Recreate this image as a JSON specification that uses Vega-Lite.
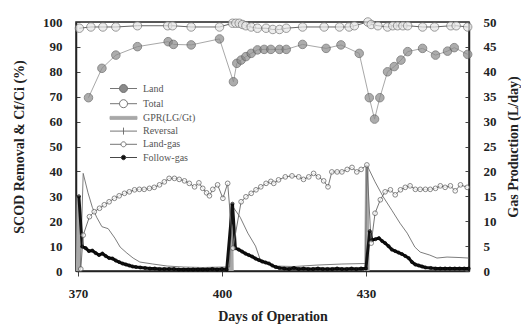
{
  "$schema": "https://vega.github.io/schema/vega-lite/v6.json",
  "width": 393,
  "height": 249,
  "autosize": {"type": "none"},
  "padding": {"left": 76, "top": 22, "right": 52, "bottom": 54},
  "background": "#ffffff",
  "config": {
    "font": "Liberation Serif",
    "view": {"stroke": "#222222", "strokeWidth": 1.5},
    "axis": {
      "grid": false,
      "domainColor": "#222222",
      "domainWidth": 1.5,
      "tickColor": "#444444",
      "labelFont": "Liberation Serif",
      "labelFontWeight": "bold",
      "labelFontSize": 13,
      "labelColor": "#222222",
      "titleFont": "Liberation Serif",
      "titleFontWeight": "bold",
      "titleFontSize": 14,
      "titleColor": "#222222"
    },
    "legend": {
      "orient": "none",
      "legendX": 42,
      "legendY": 61,
      "padding": 0,
      "rowPadding": 2.2,
      "labelFont": "Liberation Serif",
      "labelFontSize": 10,
      "labelColor": "#555555",
      "labelOffset": 14,
      "symbolSize": 100,
      "symbolOpacity": 1,
      "symbolStrokeWidth": 0.9
    }
  },
  "data": {
    "values": [
      {"series": "GPR(LG/Gt)", "seg": 1, "day": 369.95, "value": 0},
      {"series": "GPR(LG/Gt)", "seg": 1, "day": 370.1, "value": 15},
      {"series": "GPR(LG/Gt)", "seg": 1, "day": 370.25, "value": 0},
      {"series": "GPR(LG/Gt)", "seg": 2, "day": 401.7, "value": 0},
      {"series": "GPR(LG/Gt)", "seg": 2, "day": 401.9, "value": 13.5},
      {"series": "GPR(LG/Gt)", "seg": 2, "day": 402.1, "value": 0},
      {"series": "GPR(LG/Gt)", "seg": 3, "day": 430.0, "value": 0},
      {"series": "GPR(LG/Gt)", "seg": 3, "day": 430.2, "value": 21},
      {"series": "GPR(LG/Gt)", "seg": 3, "day": 430.4, "value": 0},

      {"series": "Reversal", "day": 370.5, "value": 0},
      {"series": "Reversal", "day": 371.1, "value": 19.6},
      {"series": "Reversal", "day": 372.1, "value": 15.7},
      {"series": "Reversal", "day": 373.0, "value": 12.8},
      {"series": "Reversal", "day": 373.9, "value": 10.8},
      {"series": "Reversal", "day": 375.0, "value": 8.9},
      {"series": "Reversal", "day": 376.3, "value": 8.5},
      {"series": "Reversal", "day": 377.7, "value": 6.6},
      {"series": "Reversal", "day": 378.8, "value": 4.8},
      {"series": "Reversal", "day": 380.2, "value": 3.6},
      {"series": "Reversal", "day": 381.5, "value": 2.6},
      {"series": "Reversal", "day": 382.9, "value": 1.8},
      {"series": "Reversal", "day": 385.6, "value": 1.4},
      {"series": "Reversal", "day": 388.6, "value": 1.0},
      {"series": "Reversal", "day": 392.0, "value": 0.8},
      {"series": "Reversal", "day": 396.0, "value": 0.7},
      {"series": "Reversal", "day": 400.0, "value": 0.8},
      {"series": "Reversal", "day": 401.6, "value": 0.8},
      {"series": "Reversal", "day": 402.0, "value": 13.3},
      {"series": "Reversal", "day": 403.8, "value": 10.8},
      {"series": "Reversal", "day": 405.4, "value": 7.6},
      {"series": "Reversal", "day": 407.0, "value": 5.0},
      {"series": "Reversal", "day": 407.9, "value": 2.5},
      {"series": "Reversal", "day": 409.5, "value": 1.5},
      {"series": "Reversal", "day": 411.0, "value": 1.0},
      {"series": "Reversal", "day": 415.0, "value": 0.9},
      {"series": "Reversal", "day": 420.0, "value": 1.2},
      {"series": "Reversal", "day": 425.0, "value": 1.4},
      {"series": "Reversal", "day": 429.9, "value": 1.5},
      {"series": "Reversal", "day": 430.2, "value": 21.3},
      {"series": "Reversal", "day": 431.9, "value": 17.9},
      {"series": "Reversal", "day": 433.6, "value": 14.9},
      {"series": "Reversal", "day": 435.4, "value": 12.2},
      {"series": "Reversal", "day": 437.1, "value": 9.6},
      {"series": "Reversal", "day": 438.6, "value": 7.6},
      {"series": "Reversal", "day": 440.2, "value": 4.8},
      {"series": "Reversal", "day": 441.3, "value": 3.8},
      {"series": "Reversal", "day": 443.3, "value": 3.2},
      {"series": "Reversal", "day": 444.8, "value": 2.6},
      {"series": "Reversal", "day": 446.9, "value": 2.8},
      {"series": "Reversal", "day": 449.6, "value": 2.7},
      {"series": "Reversal", "day": 451.4, "value": 2.6},

      {"series": "Follow-gas", "day": 370.2, "value": 15.0},
      {"series": "Follow-gas", "day": 370.9, "value": 4.9},
      {"series": "Follow-gas", "day": 371.6, "value": 4.6},
      {"series": "Follow-gas", "day": 372.3, "value": 4.0},
      {"series": "Follow-gas", "day": 373.0, "value": 4.1},
      {"series": "Follow-gas", "day": 373.7, "value": 3.6},
      {"series": "Follow-gas", "day": 374.4, "value": 3.2},
      {"series": "Follow-gas", "day": 375.1, "value": 3.5},
      {"series": "Follow-gas", "day": 375.8, "value": 3.0},
      {"series": "Follow-gas", "day": 376.5, "value": 2.6},
      {"series": "Follow-gas", "day": 377.2, "value": 2.5},
      {"series": "Follow-gas", "day": 377.9, "value": 2.1},
      {"series": "Follow-gas", "day": 378.6, "value": 1.8},
      {"series": "Follow-gas", "day": 379.3, "value": 1.5},
      {"series": "Follow-gas", "day": 380.0, "value": 1.3},
      {"series": "Follow-gas", "day": 380.7, "value": 1.1},
      {"series": "Follow-gas", "day": 381.4, "value": 0.9},
      {"series": "Follow-gas", "day": 382.1, "value": 0.8},
      {"series": "Follow-gas", "day": 383.0, "value": 0.7},
      {"series": "Follow-gas", "day": 384.0, "value": 0.6},
      {"series": "Follow-gas", "day": 385.0, "value": 0.5},
      {"series": "Follow-gas", "day": 386.0, "value": 0.5},
      {"series": "Follow-gas", "day": 387.0, "value": 0.4},
      {"series": "Follow-gas", "day": 388.0, "value": 0.4},
      {"series": "Follow-gas", "day": 389.0, "value": 0.4},
      {"series": "Follow-gas", "day": 390.0, "value": 0.4},
      {"series": "Follow-gas", "day": 391.0, "value": 0.3},
      {"series": "Follow-gas", "day": 392.0, "value": 0.3},
      {"series": "Follow-gas", "day": 393.0, "value": 0.3},
      {"series": "Follow-gas", "day": 394.0, "value": 0.3},
      {"series": "Follow-gas", "day": 395.0, "value": 0.3},
      {"series": "Follow-gas", "day": 396.0, "value": 0.3},
      {"series": "Follow-gas", "day": 397.0, "value": 0.3},
      {"series": "Follow-gas", "day": 398.0, "value": 0.4},
      {"series": "Follow-gas", "day": 399.0, "value": 0.3},
      {"series": "Follow-gas", "day": 400.0, "value": 0.4},
      {"series": "Follow-gas", "day": 401.0, "value": 0.3},
      {"series": "Follow-gas", "day": 402.2, "value": 13.5},
      {"series": "Follow-gas", "day": 402.8, "value": 4.6},
      {"series": "Follow-gas", "day": 403.5, "value": 4.3},
      {"series": "Follow-gas", "day": 404.2, "value": 3.9},
      {"series": "Follow-gas", "day": 404.9, "value": 3.5},
      {"series": "Follow-gas", "day": 405.6, "value": 3.2},
      {"series": "Follow-gas", "day": 406.3, "value": 2.9},
      {"series": "Follow-gas", "day": 407.0, "value": 2.5},
      {"series": "Follow-gas", "day": 407.7, "value": 2.2},
      {"series": "Follow-gas", "day": 408.4, "value": 1.9},
      {"series": "Follow-gas", "day": 409.1, "value": 1.7},
      {"series": "Follow-gas", "day": 409.8, "value": 1.5},
      {"series": "Follow-gas", "day": 410.5, "value": 1.1},
      {"series": "Follow-gas", "day": 411.2, "value": 0.8},
      {"series": "Follow-gas", "day": 412.0, "value": 0.6},
      {"series": "Follow-gas", "day": 413.0, "value": 0.5},
      {"series": "Follow-gas", "day": 414.0, "value": 0.4},
      {"series": "Follow-gas", "day": 415.0, "value": 0.6},
      {"series": "Follow-gas", "day": 416.0, "value": 0.4},
      {"series": "Follow-gas", "day": 417.0, "value": 0.5},
      {"series": "Follow-gas", "day": 418.0, "value": 0.4},
      {"series": "Follow-gas", "day": 419.0, "value": 0.4},
      {"series": "Follow-gas", "day": 420.0, "value": 0.5},
      {"series": "Follow-gas", "day": 421.0, "value": 0.4},
      {"series": "Follow-gas", "day": 422.0, "value": 0.4},
      {"series": "Follow-gas", "day": 423.0, "value": 0.4},
      {"series": "Follow-gas", "day": 424.0, "value": 0.5},
      {"series": "Follow-gas", "day": 425.0, "value": 0.4},
      {"series": "Follow-gas", "day": 426.0, "value": 0.4},
      {"series": "Follow-gas", "day": 427.0, "value": 0.5},
      {"series": "Follow-gas", "day": 428.0, "value": 0.4},
      {"series": "Follow-gas", "day": 429.0, "value": 0.5},
      {"series": "Follow-gas", "day": 430.0, "value": 0.5},
      {"series": "Follow-gas", "day": 430.8, "value": 8.0},
      {"series": "Follow-gas", "day": 431.3, "value": 6.2},
      {"series": "Follow-gas", "day": 432.0, "value": 6.4},
      {"series": "Follow-gas", "day": 432.7, "value": 6.6},
      {"series": "Follow-gas", "day": 433.4, "value": 6.0},
      {"series": "Follow-gas", "day": 434.0, "value": 5.6},
      {"series": "Follow-gas", "day": 434.7, "value": 5.0},
      {"series": "Follow-gas", "day": 435.4, "value": 4.3},
      {"series": "Follow-gas", "day": 436.1, "value": 4.0},
      {"series": "Follow-gas", "day": 436.8, "value": 3.7},
      {"series": "Follow-gas", "day": 437.5, "value": 3.4},
      {"series": "Follow-gas", "day": 438.2, "value": 3.0},
      {"series": "Follow-gas", "day": 438.9, "value": 2.6},
      {"series": "Follow-gas", "day": 439.6, "value": 1.8},
      {"series": "Follow-gas", "day": 440.3, "value": 1.3},
      {"series": "Follow-gas", "day": 441.0, "value": 1.1},
      {"series": "Follow-gas", "day": 441.7, "value": 0.9},
      {"series": "Follow-gas", "day": 442.4, "value": 0.7},
      {"series": "Follow-gas", "day": 443.5, "value": 0.6},
      {"series": "Follow-gas", "day": 444.5, "value": 0.5},
      {"series": "Follow-gas", "day": 445.5, "value": 0.5},
      {"series": "Follow-gas", "day": 446.5, "value": 0.5},
      {"series": "Follow-gas", "day": 447.5, "value": 0.5},
      {"series": "Follow-gas", "day": 448.5, "value": 0.5},
      {"series": "Follow-gas", "day": 449.5, "value": 0.5},
      {"series": "Follow-gas", "day": 450.5, "value": 0.5},
      {"series": "Follow-gas", "day": 451.4, "value": 0.5},

      {"series": "Land-gas", "day": 370.6, "value": 0.4},
      {"series": "Land-gas", "day": 371.1, "value": 7.2},
      {"series": "Land-gas", "day": 372.4, "value": 10.9},
      {"series": "Land-gas", "day": 373.4, "value": 11.9},
      {"series": "Land-gas", "day": 374.5, "value": 12.6},
      {"series": "Land-gas", "day": 375.5, "value": 13.3},
      {"series": "Land-gas", "day": 376.5, "value": 13.9},
      {"series": "Land-gas", "day": 377.6, "value": 14.6},
      {"series": "Land-gas", "day": 378.6, "value": 15.1},
      {"series": "Land-gas", "day": 379.7, "value": 15.6},
      {"series": "Land-gas", "day": 380.7, "value": 15.9},
      {"series": "Land-gas", "day": 381.8, "value": 16.3},
      {"series": "Land-gas", "day": 382.8, "value": 16.4},
      {"series": "Land-gas", "day": 383.8, "value": 16.4},
      {"series": "Land-gas", "day": 384.9, "value": 16.6},
      {"series": "Land-gas", "day": 385.9, "value": 16.8},
      {"series": "Land-gas", "day": 387.0, "value": 17.3},
      {"series": "Land-gas", "day": 388.0, "value": 17.9},
      {"series": "Land-gas", "day": 389.0, "value": 18.6},
      {"series": "Land-gas", "day": 390.1, "value": 18.6},
      {"series": "Land-gas", "day": 391.1, "value": 18.4},
      {"series": "Land-gas", "day": 392.2, "value": 18.1},
      {"series": "Land-gas", "day": 393.2, "value": 17.6},
      {"series": "Land-gas", "day": 394.3, "value": 16.9},
      {"series": "Land-gas", "day": 395.2, "value": 17.7},
      {"series": "Land-gas", "day": 396.0, "value": 16.6},
      {"series": "Land-gas", "day": 396.8, "value": 15.7},
      {"series": "Land-gas", "day": 397.4, "value": 15.1},
      {"series": "Land-gas", "day": 398.1, "value": 16.4},
      {"series": "Land-gas", "day": 399.1, "value": 17.3},
      {"series": "Land-gas", "day": 400.2, "value": 14.6},
      {"series": "Land-gas", "day": 401.2, "value": 17.6},
      {"series": "Land-gas", "day": 402.3, "value": 4.6},
      {"series": "Land-gas", "day": 404.0, "value": 13.9},
      {"series": "Land-gas", "day": 405.0, "value": 14.9},
      {"series": "Land-gas", "day": 406.1, "value": 15.6},
      {"series": "Land-gas", "day": 407.1, "value": 16.3},
      {"series": "Land-gas", "day": 408.1, "value": 16.9},
      {"series": "Land-gas", "day": 409.2, "value": 17.6},
      {"series": "Land-gas", "day": 410.2, "value": 18.0},
      {"series": "Land-gas", "day": 410.8, "value": 17.6},
      {"series": "Land-gas", "day": 411.8, "value": 18.3},
      {"series": "Land-gas", "day": 413.2, "value": 18.9},
      {"series": "Land-gas", "day": 414.6, "value": 19.1},
      {"series": "Land-gas", "day": 416.0, "value": 18.9},
      {"series": "Land-gas", "day": 417.0, "value": 18.4},
      {"series": "Land-gas", "day": 418.1, "value": 18.9},
      {"series": "Land-gas", "day": 419.1, "value": 19.6},
      {"series": "Land-gas", "day": 420.1, "value": 18.9},
      {"series": "Land-gas", "day": 421.2, "value": 18.1},
      {"series": "Land-gas", "day": 422.1, "value": 16.9},
      {"series": "Land-gas", "day": 422.9, "value": 19.9},
      {"series": "Land-gas", "day": 424.0, "value": 19.9},
      {"series": "Land-gas", "day": 425.0, "value": 19.9},
      {"series": "Land-gas", "day": 426.1, "value": 20.4},
      {"series": "Land-gas", "day": 427.1, "value": 20.8},
      {"series": "Land-gas", "day": 428.1, "value": 19.9},
      {"series": "Land-gas", "day": 429.0, "value": 20.4},
      {"series": "Land-gas", "day": 430.2, "value": 21.3},
      {"series": "Land-gas", "day": 431.1, "value": 5.6},
      {"series": "Land-gas", "day": 431.9, "value": 11.6},
      {"series": "Land-gas", "day": 433.0, "value": 14.3},
      {"series": "Land-gas", "day": 434.0, "value": 15.9},
      {"series": "Land-gas", "day": 435.1, "value": 16.3},
      {"series": "Land-gas", "day": 436.1, "value": 15.3},
      {"series": "Land-gas", "day": 437.2, "value": 16.3},
      {"series": "Land-gas", "day": 438.2, "value": 16.8},
      {"series": "Land-gas", "day": 439.2, "value": 17.1},
      {"series": "Land-gas", "day": 440.3, "value": 16.4},
      {"series": "Land-gas", "day": 441.3, "value": 16.4},
      {"series": "Land-gas", "day": 442.4, "value": 16.4},
      {"series": "Land-gas", "day": 443.4, "value": 16.4},
      {"series": "Land-gas", "day": 444.5, "value": 16.6},
      {"series": "Land-gas", "day": 445.5, "value": 17.1},
      {"series": "Land-gas", "day": 446.5, "value": 16.8},
      {"series": "Land-gas", "day": 447.6, "value": 17.1},
      {"series": "Land-gas", "day": 448.6, "value": 16.1},
      {"series": "Land-gas", "day": 449.7, "value": 17.3},
      {"series": "Land-gas", "day": 451.1, "value": 16.8},

      {"series": "Land", "day": 372.2, "value": 69.6},
      {"series": "Land", "day": 375.0, "value": 81.4},
      {"series": "Land", "day": 377.9, "value": 86.7},
      {"series": "Land", "day": 382.4, "value": 90.1},
      {"series": "Land", "day": 388.8, "value": 92.1},
      {"series": "Land", "day": 389.9, "value": 91.0},
      {"series": "Land", "day": 393.6, "value": 90.8},
      {"series": "Land", "day": 399.5, "value": 93.2},
      {"series": "Land", "day": 402.4, "value": 76.0},
      {"series": "Land", "day": 403.1, "value": 83.4},
      {"series": "Land", "day": 404.0, "value": 84.7},
      {"series": "Land", "day": 405.0, "value": 86.1},
      {"series": "Land", "day": 406.1, "value": 87.4},
      {"series": "Land", "day": 407.4, "value": 88.8},
      {"series": "Land", "day": 408.8, "value": 89.0},
      {"series": "Land", "day": 410.2, "value": 89.0},
      {"series": "Land", "day": 412.0, "value": 89.0},
      {"series": "Land", "day": 413.4, "value": 89.0},
      {"series": "Land", "day": 416.8, "value": 91.0},
      {"series": "Land", "day": 421.7, "value": 89.4},
      {"series": "Land", "day": 424.8, "value": 90.8},
      {"series": "Land", "day": 428.6, "value": 87.4},
      {"series": "Land", "day": 430.7, "value": 69.6},
      {"series": "Land", "day": 431.8, "value": 61.0},
      {"series": "Land", "day": 432.9, "value": 69.6},
      {"series": "Land", "day": 434.5, "value": 80.0},
      {"series": "Land", "day": 435.9, "value": 82.1},
      {"series": "Land", "day": 437.3, "value": 84.7},
      {"series": "Land", "day": 438.7, "value": 88.1},
      {"series": "Land", "day": 441.8, "value": 89.4},
      {"series": "Land", "day": 444.5, "value": 86.7},
      {"series": "Land", "day": 447.0, "value": 88.3},
      {"series": "Land", "day": 448.4, "value": 89.7},
      {"series": "Land", "day": 451.2, "value": 87.0},

      {"series": "Total", "day": 370.3, "value": 97.5},
      {"series": "Total", "day": 372.7, "value": 98.0},
      {"series": "Total", "day": 375.2, "value": 98.0},
      {"series": "Total", "day": 377.9, "value": 98.0},
      {"series": "Total", "day": 382.4, "value": 98.5},
      {"series": "Total", "day": 388.7, "value": 98.5},
      {"series": "Total", "day": 389.7, "value": 98.5},
      {"series": "Total", "day": 393.6, "value": 98.0},
      {"series": "Total", "day": 399.5, "value": 98.0},
      {"series": "Total", "day": 402.2, "value": 99.5},
      {"series": "Total", "day": 402.9, "value": 99.5},
      {"series": "Total", "day": 403.6, "value": 99.5},
      {"series": "Total", "day": 404.3, "value": 99.0},
      {"series": "Total", "day": 405.0, "value": 98.5},
      {"series": "Total", "day": 406.1, "value": 98.0},
      {"series": "Total", "day": 407.4, "value": 97.5},
      {"series": "Total", "day": 409.2, "value": 97.5},
      {"series": "Total", "day": 410.6, "value": 97.0},
      {"series": "Total", "day": 412.0, "value": 97.0},
      {"series": "Total", "day": 413.4, "value": 97.5},
      {"series": "Total", "day": 416.8, "value": 98.0},
      {"series": "Total", "day": 421.3, "value": 98.0},
      {"series": "Total", "day": 424.5, "value": 98.0},
      {"series": "Total", "day": 426.5, "value": 98.0},
      {"series": "Total", "day": 427.6, "value": 98.5},
      {"series": "Total", "day": 430.4, "value": 100.0},
      {"series": "Total", "day": 431.1, "value": 99.0},
      {"series": "Total", "day": 432.5, "value": 98.5},
      {"series": "Total", "day": 434.5, "value": 98.0},
      {"series": "Total", "day": 435.6, "value": 98.5},
      {"series": "Total", "day": 436.6, "value": 98.5},
      {"series": "Total", "day": 437.7, "value": 98.5},
      {"series": "Total", "day": 438.7, "value": 98.5},
      {"series": "Total", "day": 441.8, "value": 98.0},
      {"series": "Total", "day": 444.3, "value": 98.0},
      {"series": "Total", "day": 447.7, "value": 98.5},
      {"series": "Total", "day": 448.8, "value": 98.5},
      {"series": "Total", "day": 451.2, "value": 98.0}
    ]
  },
  "encoding": {
    "x": {
      "field": "day",
      "type": "quantitative",
      "scale": {"domain": [369.6, 451.475], "nice": false, "zero": false},
      "axis": {
        "values": [370, 400, 430],
        "title": "Days of Operation",
        "tickSize": 5,
        "labelPadding": 11,
        "titlePadding": 9
      }
    }
  },
  "layer": [
    {
      "transform": [{"filter": {"field": "series", "oneOf": ["GPR(LG/Gt)", "Reversal", "Follow-gas", "Land-gas"]}}],
      "encoding": {
        "y": {
          "field": "value",
          "type": "quantitative",
          "scale": {"domain": [0, 50], "nice": false},
          "axis": {
            "orient": "right",
            "values": [0, 5, 10, 15, 20, 25, 30, 35, 40, 45, 50],
            "title": "Gas Production (L/day)",
            "titleAngle": 270,
            "tickSize": -4,
            "labelPadding": 18,
            "titlePadding": 24
          }
        }
      },
      "layer": [
        {
          "transform": [{"filter": {"field": "series", "equal": "GPR(LG/Gt)"}}],
          "mark": {"type": "line", "color": "#a8a8a8", "strokeWidth": 3.5},
          "encoding": {"detail": {"field": "seg", "type": "nominal"}}
        },
        {
          "transform": [{"filter": {"field": "series", "equal": "Reversal"}}],
          "mark": {"type": "line", "color": "#6e6e6e", "strokeWidth": 0.9},
          "encoding": {}
        },
        {
          "transform": [{"filter": {"field": "series", "equal": "Follow-gas"}}],
          "mark": {"type": "line", "color": "#111111", "strokeWidth": 3},
          "encoding": {}
        },
        {
          "transform": [{"filter": {"field": "series", "equal": "Land-gas"}}],
          "mark": {"type": "line", "color": "#666666", "strokeWidth": 0.9},
          "encoding": {}
        },
        {
          "transform": [{"filter": {"field": "series", "oneOf": ["Land-gas", "Follow-gas"]}}],
          "mark": {"type": "point", "shape": "circle", "filled": true, "strokeWidth": 1},
          "encoding": {
            "fill": {"condition": [{"test": "datum.series === 'Follow-gas'", "value": "#111111"}], "value": "#ffffff"},
            "stroke": {"condition": [{"test": "datum.series === 'Follow-gas'", "value": "#000000"}], "value": "#555555"},
            "size": {"condition": [{"test": "datum.series === 'Follow-gas'", "value": 10}], "value": 22}
          }
        }
      ]
    },
    {
      "transform": [{"filter": {"field": "series", "oneOf": ["Land", "Total"]}}],
      "encoding": {
        "y": {
          "field": "value",
          "type": "quantitative",
          "scale": {"domain": [0, 100], "nice": false},
          "axis": {
            "orient": "left",
            "values": [0, 10, 20, 30, 40, 50, 60, 70, 80, 90, 100],
            "title": "SCOD Removal & Cf/Ci  (%)",
            "tickSize": -4,
            "labelPadding": 18,
            "titlePadding": 16
          }
        }
      },
      "layer": [
        {
          "transform": [{"filter": {"field": "series", "equal": "Land"}}],
          "mark": {"type": "line", "color": "#a8a8a8", "strokeWidth": 1},
          "encoding": {}
        },
        {
          "transform": [{"filter": {"field": "series", "equal": "Total"}}],
          "mark": {"type": "line", "color": "#666666", "strokeWidth": 1},
          "encoding": {}
        },
        {
          "mark": {"type": "point", "shape": "circle", "filled": true, "size": 72, "strokeWidth": 1},
          "encoding": {
            "fill": {"condition": [{"test": "datum.series === 'Land'", "value": "#8a8a8a"}], "value": "#e6e6e6"},
            "stroke": {"condition": [{"test": "datum.series === 'Land'", "value": "#5a5a5a"}], "value": "#707070"}
          }
        },
        {
          "description": "Key: one symbol per series (line stub plus marker), the marks themselves are transparent.",
          "transform": [{"filter": {"field": "series", "equal": "Land"}}],
          "mark": {"type": "point", "opacity": 0},
          "encoding": {
            "shape": {
              "field": "series",
              "type": "nominal",
              "scale": {
                "domain": ["Land", "Total", "GPR(LG/Gt)", "Reversal", "Land-gas", "Follow-gas"],
                "range": [
                  "M-2.7,0H-0.8M0.8,0H2.7M0.8,0A0.8,0.8 0 1 1 -0.8,0A0.8,0.8 0 1 1 0.8,0Z",
                  "M-2.7,0H-0.8M0.8,0H2.7M0.8,0A0.8,0.8 0 1 1 -0.8,0A0.8,0.8 0 1 1 0.8,0Z",
                  "M-2.7,-0.3H2.7V0.3H-2.7Z",
                  "M-2.7,0H2.7M0,-0.7V0.7",
                  "M-2.7,0H-0.5M0.5,0H2.7M0.5,0A0.5,0.5 0 1 1 -0.5,0A0.5,0.5 0 1 1 0.5,0Z",
                  "M-2.7,0H-0.45M0.45,0H2.7M0.45,0A0.45,0.45 0 1 1 -0.45,0A0.45,0.45 0 1 1 0.45,0Z"
                ]
              },
              "legend": {"title": null}
            },
            "fill": {
              "field": "series",
              "type": "nominal",
              "scale": {
                "domain": ["Land", "Total", "GPR(LG/Gt)", "Reversal", "Land-gas", "Follow-gas"],
                "range": ["#8a8a8a", "#ffffff", "#a8a8a8", "transparent", "#ffffff", "#111111"]
              },
              "legend": {"title": null}
            },
            "stroke": {
              "field": "series",
              "type": "nominal",
              "scale": {
                "domain": ["Land", "Total", "GPR(LG/Gt)", "Reversal", "Land-gas", "Follow-gas"],
                "range": ["#666666", "#666666", "#a8a8a8", "#666666", "#666666", "#333333"]
              },
              "legend": {"title": null}
            }
          }
        }
      ]
    }
  ],
  "resolve": {"scale": {"y": "independent"}}
}
